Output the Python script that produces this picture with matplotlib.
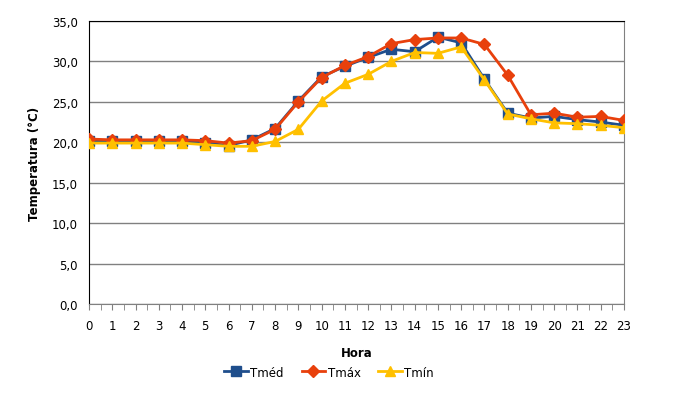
import numpy as np
import matplotlib.pyplot as plt
from matplotlib.ticker import FuncFormatter, MultipleLocator

# hourly temperatures
hours = list(range(24))
t_med = [20.2, 20.2, 20.2, 20.2, 20.2, 19.9, 19.6, 20.3, 21.7, 25.1, 28.1, 29.4,
         30.5, 31.5, 31.2, 33.0, 32.3, 27.8, 23.6, 23.0, 23.2, 22.8, 22.5, 22.1]
t_max = [20.4, 20.3, 20.3, 20.3, 20.3, 20.2, 19.9, 20.2, 21.6, 25.0, 28.0, 29.5,
         30.6, 32.2, 32.7, 32.9, 32.9, 32.1, 28.3, 23.4, 23.6, 23.1, 23.2, 22.7]
t_min = [19.9, 19.9, 19.9, 19.9, 19.9, 19.7, 19.5, 19.5, 20.1, 21.6, 25.1, 27.3,
         28.4, 30.0, 31.1, 31.0, 31.8, 27.7, 23.5, 22.9, 22.4, 22.3, 22.1, 21.8]

fig = plt.figure(figsize=(6.81, 4.02), dpi=100)
ax = fig.add_axes([0.1307, 0.2413, 0.7856, 0.704])

ax.plot(hours, t_med, color='#1F4E8C', lw=2, marker='s', ms=6.5, label='Tméd', zorder=3)
ax.plot(hours, t_max, color='#E8400C', lw=2, marker='D', ms=6, label='Tmáx', zorder=4)
ax.plot(hours, t_min, color='#FFC000', lw=2, marker='^', ms=7.5, label='Tmín', zorder=5)

ax.set_xlim(0, 23)
ax.set_ylim(0, 35)
ax.yaxis.set_major_locator(MultipleLocator(5))
ax.yaxis.set_major_formatter(FuncFormatter(lambda v, p: f'{v:.1f}'.replace('.', ',')))
ax.set_xticks(hours)
ax.xaxis.set_minor_locator(MultipleLocator(0.5))
ax.grid(axis='y', color='#808080', lw=1)
ax.set_axisbelow(True)

ax.tick_params(axis='x', which='both', length=4, color='#808080', labelsize=8.5, pad=7)
ax.tick_params(axis='y', length=0, labelsize=8.5, pad=8)

ax.spines['left'].set_color('black')
ax.spines['top'].set_color('black')
ax.spines['right'].set_color('#808080')
ax.spines['bottom'].set_color('#808080')

ax.set_xlabel('Hora', fontsize=8.5, fontweight='bold', labelpad=10)
ax.set_ylabel('Temperatura (°C)', fontsize=8.5, fontweight='bold', labelpad=8)

ax.legend(loc='upper center', bbox_to_anchor=(0.449, -0.18), ncol=3, frameon=False,
          fontsize=8.5, handlelength=2.0, columnspacing=1.5, handletextpad=0.2)

fig.savefig('out.png', dpi=100)
